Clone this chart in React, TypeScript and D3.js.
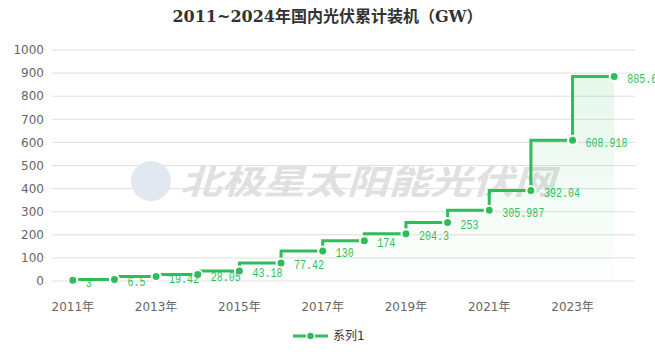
import React from "react";
import * as d3 from "d3";

const years = ["2011","2012","2013","2014","2015","2016","2017","2018","2019","2020","2021","2022","2023","2024"];
const values = [3, 6.5, 19.42, 28.05, 43.18, 77.42, 130, 174, 204.3, 253, 305.987, 392.04, 608.918, 885.6];
const yTicks = [0,100,200,300,400,500,600,700,800,900,1000];
const title = "2011~2024年国内光伏累计装机（GW）";
const seriesName = "系列1";

const W = 655, H = 358;
const M = { left: 52, right: 20, top: 50, bottom: 77 };
const GREEN = "#2fbd5b";

export default function App() {
  const x = d3.scaleBand().domain(years).range([M.left, W - M.right]);
  const y = d3.scaleLinear().domain([0, 1000]).range([H - M.bottom, M.top]);
  const cx = (i: number) => (x(years[i]) as number) + x.bandwidth() / 2;
  const pts: [number, number][] = values.map((v, i) => [cx(i), y(v)]);
  const line = d3.line().curve(d3.curveStepBefore)(pts) as string;
  const area = d3.area().curve(d3.curveStepBefore).y0(y(0))(pts) as string;
  const mono = "'Liberation Mono','DejaVu Sans Mono',monospace";
  const sans = "'DejaVu Sans','Noto Sans CJK SC',sans-serif";
  return (
    <svg width={W} height={H} style={{ position: "absolute", left: 0, top: 0, background: "#fff" }}>
      <defs>
        <linearGradient id="ag" x1="0" y1="0" x2="0" y2="1">
          <stop offset="0" stopColor={GREEN} stopOpacity={0.12} />
          <stop offset="1" stopColor={GREEN} stopOpacity={0.01} />
        </linearGradient>
      </defs>
      <text x={W / 2} y={22} textAnchor="middle" fontSize={16} fontWeight="bold" fill="#333"
        fontFamily="'DejaVu Serif','Noto Sans CJK SC',serif">{title}</text>
      {yTicks.map(t => (
        <g key={t}>
          <line x1={M.left} x2={W - M.right} y1={y(t)} y2={y(t)} stroke="#e0e0e0" strokeWidth={1} />
          <text x={44} y={y(t)} dy="0.35em" textAnchor="end" fontSize={12} fill="#666" fontFamily={sans}>{t}</text>
        </g>
      ))}
      {/* watermark */}
      <g>
        <circle cx={151} cy={181} r={20} fill="#e2e8f0" />
        <text x={180} y={194} fontSize={40} fontWeight="bold" fill="#e0e0e0" fontStyle="italic"
          fontFamily="'Noto Sans CJK SC',sans-serif" textLength={375} lengthAdjust="spacingAndGlyphs"
          transform="translate(0,194) scale(1,0.85) translate(0,-194)">北极星太阳能光伏网</text>
      </g>
      {years.map((yr, i) => i % 2 === 0 ? (
        <text key={yr} x={cx(i)} y={307} dy="0.35em" textAnchor="middle" fontSize={12} fill="#666" fontFamily={sans}>{yr}年</text>
      ) : null)}
      <path d={area} fill="url(#ag)" />
      <path d={line} fill="none" stroke={GREEN} strokeWidth={3} />
      {pts.map((p, i) => (
        <circle key={i} cx={p[0]} cy={p[1]} r={4.5} fill={GREEN} stroke="#fff" strokeWidth={2} />
      ))}
      {pts.map((p, i) => {
        const s = String(values[i]);
        return (
          <text key={"l" + i} x={p[0] + 13} y={p[1] + 2} dy="0.35em" fontSize={12.5} fill={GREEN} fontFamily={mono}
            textLength={s.length * 6} lengthAdjust="spacingAndGlyphs">{s}</text>
        );
      })}
      <g>
        <line x1={293} x2={328} y1={336} y2={336} stroke={GREEN} strokeWidth={3} />
        <circle cx={310.5} cy={336} r={4} fill={GREEN} stroke="#fff" strokeWidth={1.5} />
        <text x={333} y={336} dy="0.35em" fontSize={12} fill="#333" fontFamily={sans}>{seriesName}</text>
      </g>
    </svg>
  );
}
